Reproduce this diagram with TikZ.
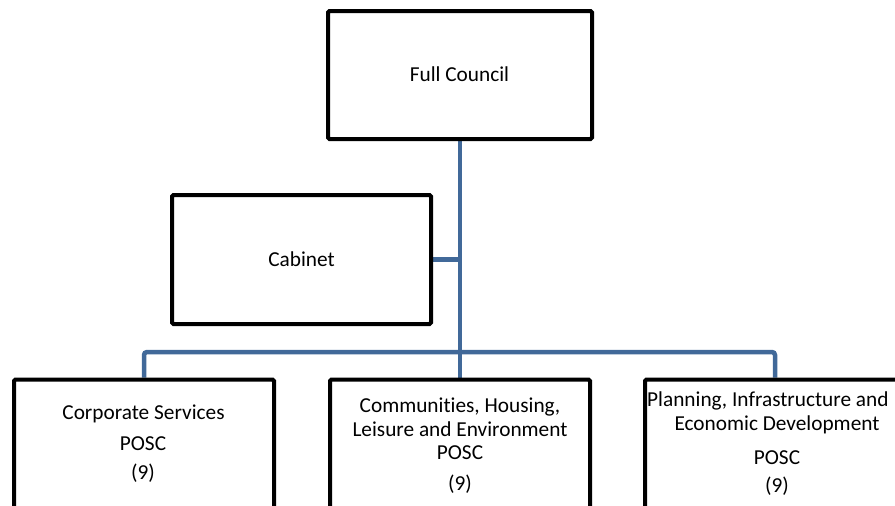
\documentclass[tikz,border=0pt]{standalone}
\usepackage{fontspec}
\setmainfont{Carlito}[Ligatures=NoCommon]
\usetikzlibrary{backgrounds}
\definecolor{conn}{RGB}{65,105,153}
\begin{document}
\begin{tikzpicture}[x=1pt,y=-1pt,
  box/.style={draw=black,line width=4pt,rounded corners=1.5pt,fill=white,inner sep=0pt},
  lbl/.style={anchor=base,inner sep=0pt,font=\fontsize{21.3}{24}\selectfont},
  link/.style={draw=conn,line width=4.5pt}]
\useasboundingbox (0,0) rectangle (895,506);
\clip (0,0) rectangle (895,506);
% boxes
\node[box,minimum width=264pt,minimum height=128pt] (fc) at (460,75) {};
\node[box,minimum width=259pt,minimum height=129pt] (cab) at (301.5,259.5) {};
\node[box,minimum width=260pt,minimum height=260pt] (corp) at (144,509.5) {};
\node[box,minimum width=260pt,minimum height=260pt] (comm) at (460,509.5) {};
\node[box,minimum width=260pt,minimum height=260pt] (plan) at (775,509.5) {};
% connectors
\begin{pgfonlayer}{background}
\coordinate (busmid) at (460,352);
\draw[link] (fc.south) -- (comm.north);
\draw[link] (cab.east) -- (cab.east -| fc.south);
\draw[link,rounded corners=3pt] (corp.north) |- (busmid) -| (plan.north);
\end{pgfonlayer}
% texts
\node[lbl] (fct) at (459.5,81.7) {Full Council};
\node[lbl] (cabt) at (301.5,266) {Cabinet};
\node[lbl] (corp1) at (143.5,419) {Corporate Services};
\node[lbl] (corp2) at (143,450) {POSC};
\node[lbl] (corp3) at (143,479) {(9)};
\node[lbl] (comm1) at (460,412.7) {Communities, Housing,};
\node[lbl] (comm2) at (460,436.7) {Leisure and Environment};
\node[lbl] (comm3) at (460,459.3) {POSC};
\node[lbl] (comm4) at (460,490.7) {(9)};
\node[lbl,anchor=base west] (plan1) at (647,406.7) {Planning, Infrastructure and};
\node[lbl] (plan2) at (777,430) {Economic Development};
\node[lbl] (plan3) at (777,464) {POSC};
\node[lbl] (plan4) at (777,492.7) {(9)};
\end{tikzpicture}
\end{document}
